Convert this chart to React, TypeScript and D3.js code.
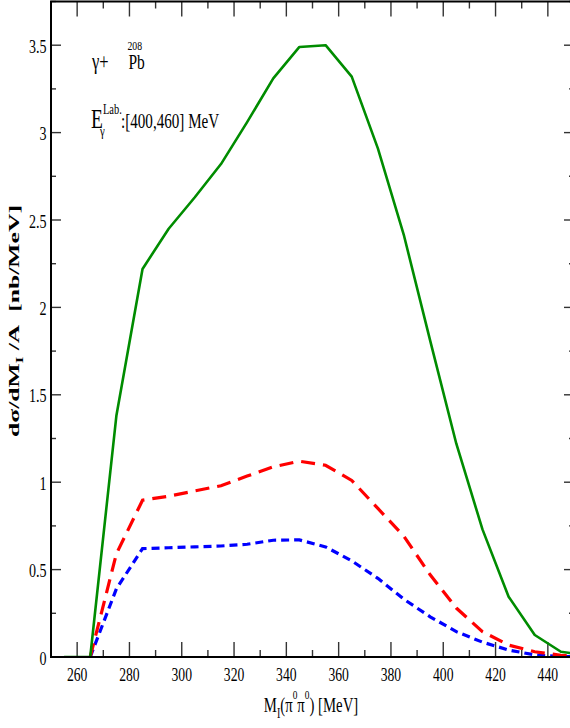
import React from "react";
import * as d3 from "d3";

// M_I(pi0 pi0) bin centres [MeV]
const mass = [255, 265, 275, 285, 295, 305, 315, 325, 335, 345, 355, 365, 375, 385, 395, 405, 415, 425, 435, 445, 455];
// solid green curve
const total = [0, 0, 1.38, 2.22, 2.45, 2.63, 2.82, 3.06, 3.31, 3.49, 3.5, 3.32, 2.91, 2.41, 1.81, 1.22, 0.73, 0.345, 0.126, 0.03, 0.01];
// long dashed red curve
const redCurve = [null, 0, 0.59, 0.897, 0.92, 0.95, 0.98, 1.035, 1.088, 1.12, 1.097, 1.01, 0.85, 0.69, 0.47, 0.28, 0.145, 0.068, 0.03, 0.01, 0.003];
// short dashed blue curve
const blueCurve = [null, 0, 0.39, 0.62, 0.625, 0.63, 0.635, 0.645, 0.668, 0.67, 0.63, 0.55, 0.45, 0.33, 0.23, 0.145, 0.085, 0.04, 0.012, 0.003, 0.001];

const xTicks = [260, 280, 300, 320, 340, 360, 380, 400, 420, 440];
const xMinor = [250, 270, 290, 310, 330, 350, 370, 390, 410, 430, 450];
const yTicks = [0, 0.5, 1, 1.5, 2, 2.5, 3, 3.5];
const yMinor = [0.25, 0.75, 1.25, 1.75, 2.25, 2.75, 3.25, 3.75];

const FONT = "'Liberation Serif', 'Times New Roman', serif";
const SX = 0.72; // horizontal squeeze of all glyphs in the original

function T({ x, y, size, anchor = "start", weight = "normal", children }: any) {
  return (
    <text
      transform={`translate(${x},${y}) scale(${SX},1)`}
      fontSize={size}
      textAnchor={anchor}
      fontWeight={weight}
      fontFamily={FONT}
      fill="#000"
    >
      {children}
    </text>
  );
}

export default function App() {
  const width = 570;
  const height = 728;
  const left = 51, right = 574, top = 1.5, bottom = 657;

  const x = d3.scaleLinear().domain([250, 450]).range([left, right]);
  const y = d3.scaleLinear().domain([0, 3.75]).range([bottom, top]);

  const makeLine = (vals: (number | null)[]) =>
    d3
      .line<number>()
      .defined((i) => vals[i] !== null)
      .x((i) => x(mass[i]))
      .y((i) => y(vals[i] as number))(mass.map((_, i) => i)) || "";

  const tickColor = "#333";

  return (
    <svg
      width={width}
      height={height}
      style={{ position: "absolute", left: 0, top: 0, background: "#fff" }}
    >
      <defs>
        <clipPath id="plot">
          <rect x={left} y={top} width={right - left} height={bottom - top} />
        </clipPath>
      </defs>

      {/* ticks, bottom and top */}
      {xTicks.map((t) => (
        <g key={"xt" + t} stroke={tickColor} strokeWidth={1.4}>
          <line x1={x(t)} x2={x(t)} y1={bottom} y2={bottom - 15} />
          <line x1={x(t)} x2={x(t)} y1={top} y2={top + 15} />
        </g>
      ))}
      {xMinor.map((t) => (
        <g key={"xm" + t} stroke={tickColor} strokeWidth={1.4}>
          <line x1={x(t)} x2={x(t)} y1={bottom} y2={bottom - 7} />
          <line x1={x(t)} x2={x(t)} y1={top} y2={top + 7} />
        </g>
      ))}
      {yTicks.map((t) => (
        <g key={"yt" + t} stroke={tickColor} strokeWidth={1.4}>
          <line x1={left} x2={left + 10} y1={y(t)} y2={y(t)} />
          <line x1={right} x2={right - 10} y1={y(t)} y2={y(t)} />
        </g>
      ))}
      {yMinor.map((t) => (
        <g key={"ym" + t} stroke={tickColor} strokeWidth={1.4}>
          <line x1={left} x2={left + 5} y1={y(t)} y2={y(t)} />
          <line x1={right} x2={right - 5} y1={y(t)} y2={y(t)} />
        </g>
      ))}

      {/* curves */}
      <g clipPath="url(#plot)" fill="none">
        <path d={makeLine(blueCurve)} stroke="#0000ff" strokeWidth={3.2} strokeDasharray="8,5" />
        <path d={makeLine(redCurve)} stroke="#ff0000" strokeWidth={3.2} strokeDasharray="14,8" />
        <path d={makeLine(total)} stroke="#008c00" strokeWidth={2.6} strokeLinejoin="round" />
      </g>

      {/* frame */}
      <rect
        x={left}
        y={top}
        width={right - left}
        height={bottom - top}
        fill="none"
        stroke="#000"
        strokeWidth={2}
      />

      {/* tick labels */}
      {xTicks.map((t) => (
        <T key={"xl" + t} x={x(t)} y={681} size={19} anchor="middle">
          {t}
        </T>
      ))}
      {yTicks.map((t) => (
        <T key={"yl" + t} x={46.5} y={y(t) + 7.5} size={19.5} anchor="end">
          {String(t)}
        </T>
      ))}

      {/* x axis title */}
      <T x={311} y={712} size={20.5} anchor="middle">
        M
        <tspan fontSize={14} dy={6}>I</tspan>
        <tspan dy={-6}>(π</tspan>
        <tspan fontSize={13} dy={-13}>0</tspan>
        <tspan dy={13}>π</tspan>
        <tspan fontSize={13} dy={-13}>0</tspan>
        <tspan dy={13}>) [MeV]</tspan>
      </T>

      {/* y axis title */}
      <text
        transform={`translate(19,321) rotate(-90) scale(1,${SX})`}
        fontSize={20}
        fontWeight="bold"
        textAnchor="middle"
        fontFamily={FONT}
        textLength={232}
        lengthAdjust="spacingAndGlyphs"
      >
        dσ/dM
        <tspan fontSize={13} dy={5}>I</tspan>
        <tspan dy={-5}>{" /A\u00a0\u00a0[nb/MeV]"}</tspan>
      </text>

      {/* annotations */}
      <T x={92} y={69} size={23}>γ+</T>
      <T x={127.5} y={50} size={13.5}>208</T>
      <T x={128.5} y={69} size={21.5}>Pb</T>

      <T x={91} y={127.5} size={27}>E</T>
      <T x={103} y={114} size={14.5}>Lab.</T>
      <T x={100} y={136} size={15}>γ</T>
      <T x={121} y={127.5} size={21}>:[400,460] MeV</T>
    </svg>
  );
}
